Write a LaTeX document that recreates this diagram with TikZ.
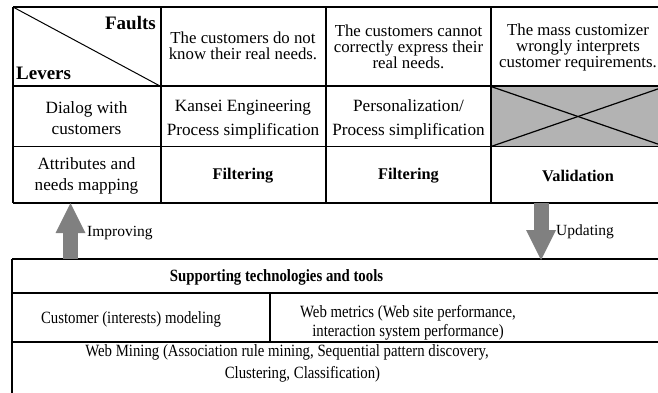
\documentclass[tikz,border=0pt]{standalone}
\usepackage{fontspec}
\setmainfont{Liberation Serif}
\newfontfamily\condfont[FakeStretch=0.86]{Liberation Serif}
\usetikzlibrary{arrows.meta}
\definecolor{arrowgray}{HTML}{808080}
\definecolor{cellgray}{HTML}{B3B3B3}
\tikzset{
        thickline/.style={line width=2pt}, % outer frame and main rules
        thinline/.style={line width=1.2pt}, % inner rules
        cell/.style={align=center, inner sep=0pt, font=\fontsize{17.2}{21}\selectfont},
        headcell/.style={cell, font=\fontsize{16.8}{16}\selectfont},
        toolcell/.style={align=center, inner sep=0pt, font=\condfont\fontsize{17.2}{19.5}\selectfont},
        bigarrow/.style={draw=arrowgray, line width=15pt, -{Triangle[width=30pt,length=30pt,line width=0pt]}},
        arrowlabel/.style={anchor=base west, inner sep=0pt, font=\fontsize{15.5}{18}\selectfont},
}

\begin{document}
\begin{tikzpicture}[x=1pt,y=-1pt]
\useasboundingbox (0,0) rectangle (658,392);
\clip (0,0) rectangle (658,392);
% levers / faults table
\fill[cellgray] (491,86.5) rectangle (665,146.5);
\draw[thinline] (491,86.5) -- (665,146.5);
\draw[thinline] (491,146.5) -- (665,86.5);
\draw[line width=1pt] (13,7) -- (160,86);
\draw[thickline] (13,7) -- (665,7);
\draw[thickline] (13,7) -- (13,203);
\draw[thickline] (13,86) -- (665,86);
\draw[thickline] (13,203) -- (665,203);
\draw[thickline] (160.5,7) -- (160.5,203);
\draw[thinline] (13,146.5) -- (665,146.5);
\draw[thinline] (326,7) -- (326,203);
\draw[thinline] (491,7) -- (491,203);
\node[anchor=base east, inner sep=0pt, font=\bfseries\fontsize{19}{19}\selectfont] (faults) at (156,29) {Faults};
\node[anchor=base west, inner sep=0pt, font=\bfseries\fontsize{19}{19}\selectfont] (levers) at (16,79) {Levers};
\node[headcell] (fault1) at (243,46) {The customers do not\\know their real needs.};
\node[headcell] (fault2) at (408.5,47) {The customers cannot\\correctly express their\\real needs.};
\node[headcell] (fault3) at (578,47) {The mass customizer\\wrongly interprets\\customer requirements.};
\node[cell] (dialog) at (86.5,118) {Dialog with\\customers};
\node[cell, font=\fontsize{17.2}{23.5}\selectfont] (kansei) at (243,119.5) {Kansei Engineering\\Process simplification};
\node[cell, font=\fontsize{17.2}{23.5}\selectfont] (personal) at (408.5,119.5) {Personalization/\\Process simplification};
\node[cell] (mapping) at (86.5,176) {Attributes and\\needs mapping};
\node[cell, font=\bfseries\fontsize{16.3}{20}\selectfont] (filter1) at (243,176) {Filtering};
\node[cell, font=\bfseries\fontsize{16.3}{20}\selectfont] (filter2) at (408.5,176) {Filtering};
\node[cell, font=\bfseries\fontsize{16.3}{20}\selectfont] (valid) at (578,176) {Validation};
% technologies table
\draw[thickline] (12,259) -- (665,259);
\draw[thickline] (12,259) -- (12,400);
\draw[thickline] (12,293) -- (665,293);
\draw[thinline] (12,342) -- (665,342);
\draw[thinline] (270,293) -- (270,342);
\node[toolcell, font=\condfont\bfseries\fontsize{17.2}{19.5}\selectfont] (tools) at (276.5,277) {Supporting technologies and tools};
\node[toolcell] (custmodel) at (131,319) {Customer (interests) modeling};
\node[toolcell] (metrics) at (408,323) {Web metrics (Web site performance,\\interaction system performance)};
\node[toolcell] (mining) at (287,352) {Web Mining (Association rule mining, Sequential pattern discovery,};
\node[toolcell] (mining2) at (302.5,374) {Clustering, Classification)};
% arrows between the tables
\coordinate (imptail) at (70.5,259);
\coordinate (imptip) at (70.5,203);
\coordinate (updtail) at (541,203);
\coordinate (updtip) at (541,260);
\draw[bigarrow] (imptail) -- (imptip);
\draw[bigarrow] (updtail) -- (updtip);
\node[arrowlabel] (improving) at (87,236) {Improving};
\node[arrowlabel] (updating) at (556,235) {Updating};
\end{tikzpicture}
\end{document}
